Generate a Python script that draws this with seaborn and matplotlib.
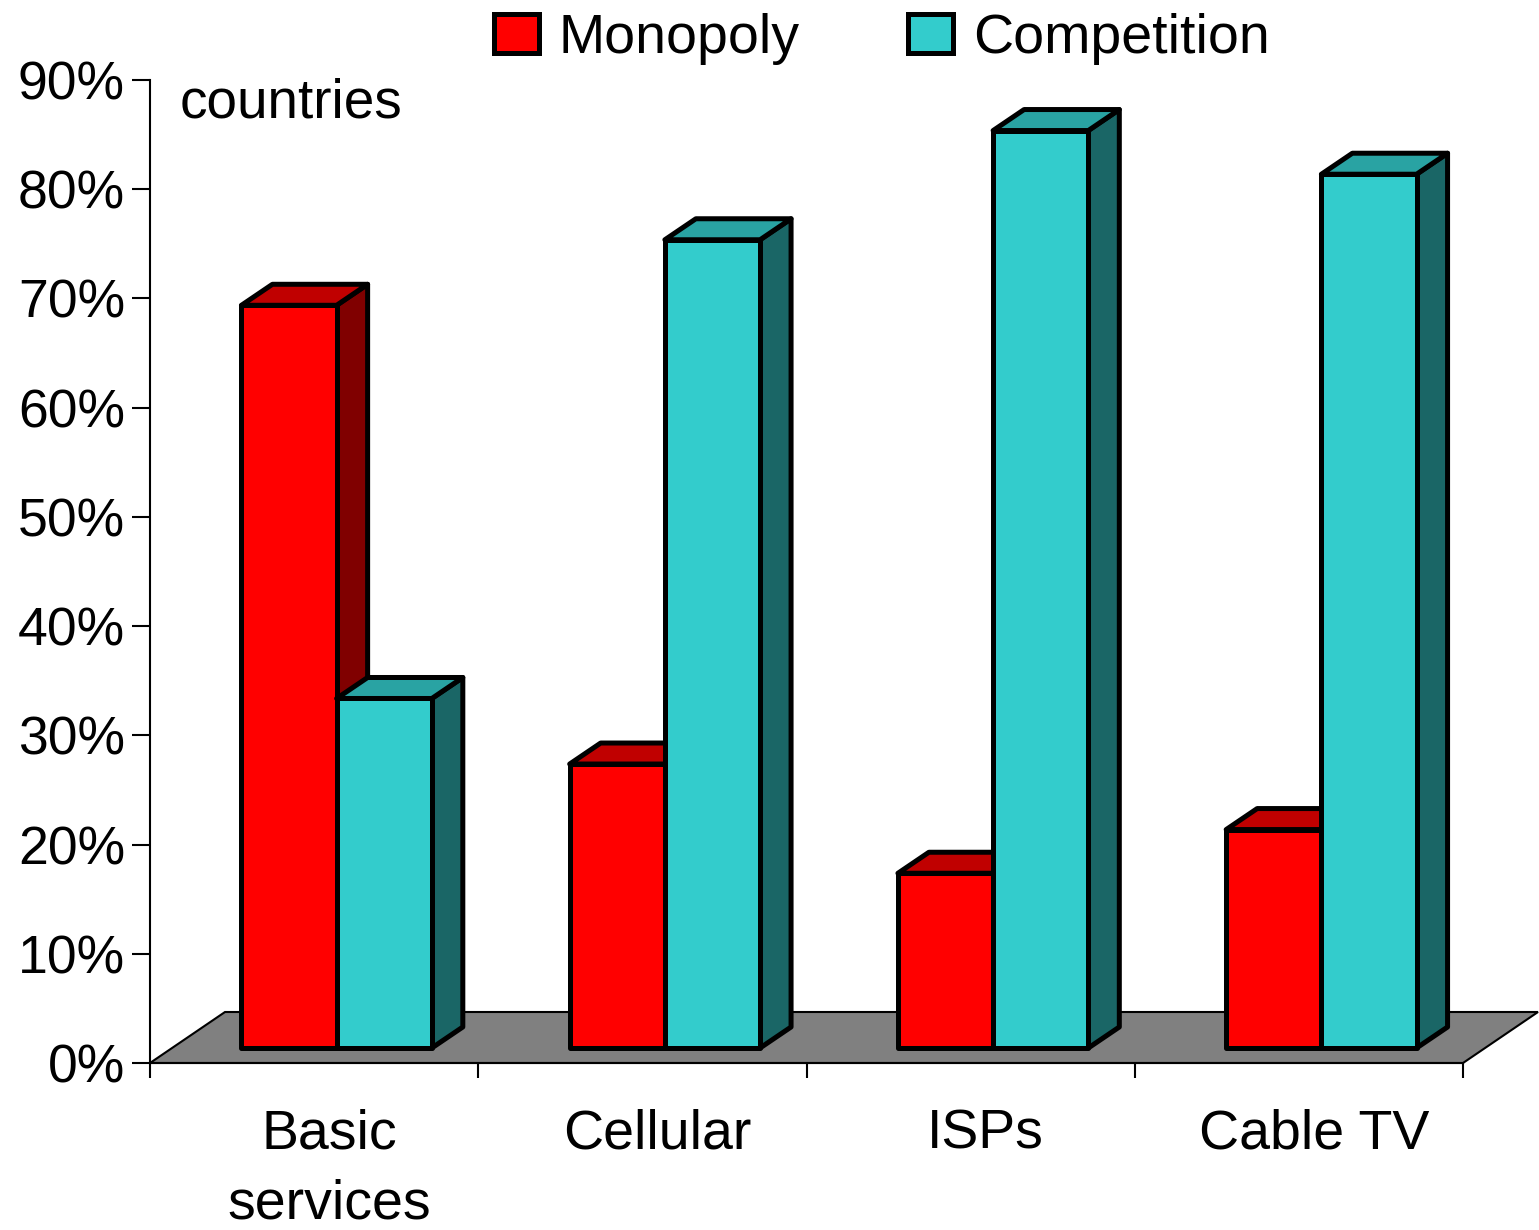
import matplotlib

matplotlib.use("Agg")
import matplotlib.pyplot as plt
from matplotlib.patches import Patch, Polygon
import numpy as np
import pandas as pd
import seaborn as sns


CATEGORIES = ["Basic\nservices", "Cellular", "ISPs", "Cable TV"]
SERIES = ["Monopoly", "Competition"]
MONOPOLY = [68, 26, 16, 20]
COMPETITION = [32, 74, 84, 80]
Y_TICKS = [0, 10, 20, 30, 40, 50, 60, 70, 80, 90]

FRONT = {"Monopoly": "#FF0000", "Competition": "#33CCCC"}
TOP = {"Monopoly": "#C00000", "Competition": "#29A3A3"}
SIDE = {"Monopoly": "#800000", "Competition": "#1A6666"}

W, H, DPI = 1539, 1230, 100


def main() -> None:
    sns.set_style("ticks")
    plt.rcParams["font.family"] = ["Liberation Sans", "DejaVu Sans"]
    plt.rcParams["text.color"] = "black"

    df = pd.DataFrame(
        {
            "category": CATEGORIES * 2,
            "series": [SERIES[0]] * 4 + [SERIES[1]] * 4,
            "value": MONOPOLY + COMPETITION,
        }
    )

    fig = plt.figure(figsize=(W / DPI, H / DPI), dpi=DPI)
    ax = fig.add_axes([150 / W, 1 - 1063 / H, (1463 - 150) / W, (1063 - 80) / H])
    ax.patch.set_alpha(0)

    sns.barplot(
        data=df, x="category", y="value", hue="series", hue_order=SERIES,
        palette=FRONT, width=0.58, saturation=1, edgecolor="black",
        linewidth=3.6, legend=False, ax=ax,
    )
    ax.set_xlim(-0.5, 3.5)
    ax.set_ylim(0, 90)

    def px(dx, dy):
        p0 = ax.transData.transform((0, 0))
        return ax.transData.inverted().transform(p0 + np.array([dx, dy]))

    # floor
    fx, fy = px(75, 51)
    floor = Polygon(
        [(-0.5, 0), (3.5, 0), (3.5 + fx, fy), (-0.5 + fx, fy)],
        closed=True, facecolor="#808080", edgecolor="black", lw=1.5,
        zorder=1, clip_on=False,
    )
    ax.add_patch(floor)

    ox, oy = px(22.5, 15)
    dx, dy = px(31, 21)

    bars = []
    for series, cont in zip(SERIES, ax.containers):
        for bar in cont:
            bars.append((bar.get_x(), series, bar))
    bars.sort(key=lambda t: t[0])

    for i, (_, series, bar) in enumerate(bars):
        x = bar.get_x() + ox
        w = bar.get_width()
        h = bar.get_height()
        y0 = oy
        bar.set_x(x)
        bar.set_y(y0)
        z = 3 + 3 * i
        side = Polygon(
            [(x + w, y0), (x + w + dx, y0 + dy), (x + w + dx, y0 + h + dy), (x + w, y0 + h)],
            closed=True, facecolor=SIDE[series], edgecolor="black", lw=3.6,
            joinstyle="round", zorder=z, clip_on=False,
        )
        top = Polygon(
            [(x, y0 + h), (x + w, y0 + h), (x + w + dx, y0 + h + dy), (x + dx, y0 + h + dy)],
            closed=True, facecolor=TOP[series], edgecolor="black", lw=3.6,
            joinstyle="round", zorder=z + 1, clip_on=False,
        )
        ax.add_patch(side)
        ax.add_patch(top)
        bar.set_zorder(z + 2)
        bar.set_joinstyle("round")
        bar.set_clip_on(False)

    # axes
    sns.despine(ax=ax)
    for s in ("left", "bottom"):
        ax.spines[s].set_linewidth(1.5)
        ax.spines[s].set_color("black")
        ax.spines[s].set_zorder(2)

    ax.set_yticks(Y_TICKS, labels=[f"{v}%" for v in Y_TICKS])
    ax.tick_params(axis="y", length=13, width=1.5, pad=5, labelsize=38.5,
                   color="black", labelcolor="black")

    ax.set_xticks([-0.5, 0.5, 1.5, 2.5, 3.5], labels=[""] * 5)
    ax.tick_params(axis="x", which="major", length=11, width=1.5, color="black")
    shift = px(15, 0)[0]
    ax.set_xticks([i + shift for i in range(len(CATEGORIES))], labels=CATEGORIES, minor=True)
    ax.tick_params(axis="x", which="minor", length=0, pad=33, labelsize=40,
                   labelcolor="black")
    for lbl in ax.get_xticklabels(minor=True):
        lbl.set_linespacing(1.45)
    ax.set_xlabel("")
    ax.set_ylabel("")

    fig.text(180 / W, 1 - 117 / H, "countries", fontsize=39.5, ha="left", va="baseline")

    handles = [
        Patch(facecolor=FRONT[s], edgecolor="black", linewidth=3.6) for s in SERIES
    ]
    fig.legend(
        handles, SERIES, ncol=2, loc="upper center",
        bbox_to_anchor=(882 / W, 1 - 13 / H), frameon=False, fontsize=40,
        handlelength=0.81, handleheight=0.7, handletextpad=0.36,
        columnspacing=1.95, borderaxespad=0, borderpad=0,
    )

    fig.savefig("out.png", dpi=DPI)
    plt.close(fig)


if __name__ == "__main__":
    main()
